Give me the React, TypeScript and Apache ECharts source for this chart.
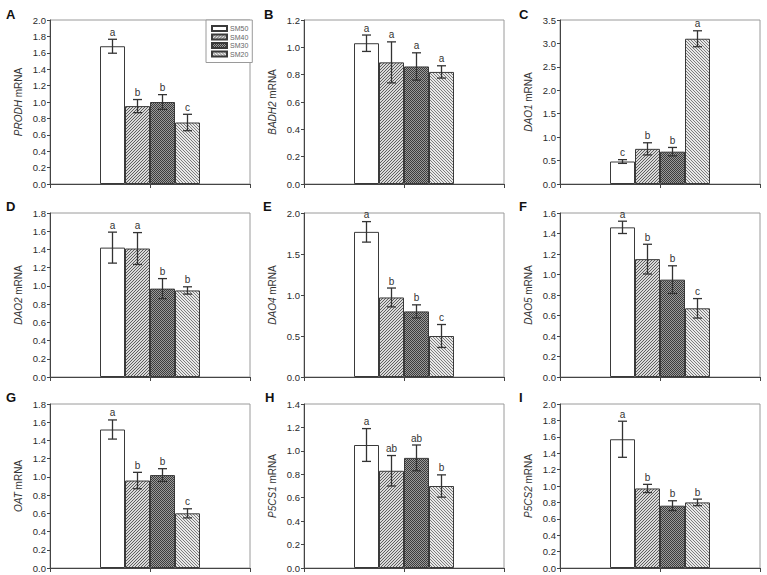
import React, { useEffect, useRef } from 'react';
import * as echarts from 'echarts';

const treatments = ['SM50', 'SM40', 'SM30', 'SM20'];
const genes = ['PRODH', 'BADH2', 'DAO1', 'DAO2', 'DAO4', 'DAO5', 'OAT', 'P5CS1', 'P5CS2'];
const panelLetters = ['A', 'B', 'C', 'D', 'E', 'F', 'G', 'H', 'I'];

const prodhMean = [1.68, 0.95, 1.0, 0.75];
const prodhSE = [0.085, 0.08, 0.09, 0.1];
const badh2Mean = [1.03, 0.89, 0.86, 0.82];
const badh2SE = [0.06, 0.15, 0.1, 0.045];
const dao1Mean = [0.48, 0.75, 0.69, 3.1];
const dao1SE = [0.04, 0.13, 0.09, 0.17];
const dao2Mean = [1.42, 1.41, 0.97, 0.95];
const dao2SE = [0.17, 0.175, 0.11, 0.04];
const dao4Mean = [1.77, 0.97, 0.8, 0.5];
const dao4SE = [0.125, 0.115, 0.08, 0.14];
const dao5Mean = [1.46, 1.15, 0.95, 0.67];
const dao5SE = [0.06, 0.145, 0.135, 0.095];
const oatMean = [1.52, 0.96, 1.02, 0.6];
const oatSE = [0.105, 0.09, 0.07, 0.05];
const p5cs1Mean = [1.05, 0.83, 0.94, 0.7];
const p5cs1SE = [0.14, 0.13, 0.11, 0.095];
const p5cs2Mean = [1.57, 0.97, 0.76, 0.8];
const p5cs2SE = [0.22, 0.05, 0.06, 0.04];

const means = [prodhMean, badh2Mean, dao1Mean, dao2Mean, dao4Mean, dao5Mean, oatMean, p5cs1Mean, p5cs2Mean];
const errors = [prodhSE, badh2SE, dao1SE, dao2SE, dao4SE, dao5SE, oatSE, p5cs1SE, p5cs2SE];

const prodhLetters = ['a', 'b', 'b', 'c'];
const badh2Letters = ['a', 'a', 'a', 'a'];
const dao1Letters = ['c', 'b', 'b', 'a'];
const dao2Letters = ['a', 'a', 'b', 'b'];
const dao4Letters = ['a', 'b', 'b', 'c'];
const dao5Letters = ['a', 'b', 'b', 'c'];
const oatLetters = ['a', 'b', 'b', 'c'];
const p5cs1Letters = ['a', 'ab', 'ab', 'b'];
const p5cs2Letters = ['a', 'b', 'b', 'b'];
const sigLetters = [prodhLetters, badh2Letters, dao1Letters, dao2Letters, dao4Letters, dao5Letters, oatLetters, p5cs1Letters, p5cs2Letters];

const yMax = [2.0, 1.2, 3.5, 1.8, 2.0, 1.6, 1.8, 1.4, 2.0];
const yInterval = [0.2, 0.2, 0.5, 0.2, 0.5, 0.2, 0.2, 0.2, 0.2];

// 8 slots across the plot: bars occupy slots 2..5 (middle half)
const slotLabels = ['s0', 's1', 'SM50', 'SM40', 'SM30', 'SM20', 's6', 's7'];

function makePattern(kind: string) {
  const c = document.createElement('canvas');
  const n = kind === 'check' ? 2 : 3;
  c.width = n;
  c.height = n;
  const ctx = c.getContext('2d')!;
  let bg = '#d9d9d9';
  let fg = '#5e5e5e';
  if (kind === 'back') {
    bg = '#e8e8e8';
    fg = '#7c7c7c';
  }
  if (kind === 'check') {
    bg = '#9a9a9a';
    fg = '#3c3c3c';
  }
  ctx.fillStyle = bg;
  ctx.fillRect(0, 0, n, n);
  ctx.fillStyle = fg;
  for (let y = 0; y < n; y++) {
    for (let x = 0; x < n; x++) {
      let on = false;
      if (kind === 'fwd') on = (x + y) % 3 === 2;
      if (kind === 'back') on = (x - y + 6) % 3 === 0;
      if (kind === 'check') on = (x + y) % 2 === 0;
      if (on) ctx.fillRect(x, y, 1, 1);
    }
  }
  return { image: c, repeat: 'repeat', imageWidth: n, imageHeight: n } as any;
}

const FONT = 'Liberation Sans, Arial, sans-serif';

export default function App() {
  const ref = useRef<HTMLDivElement>(null);
  useEffect(() => {
    const chart = echarts.init(ref.current!, null, { renderer: 'svg' });
    const fills: Record<string, any> = {
      SM50: '#ffffff',
      SM40: makePattern('fwd'),
      SM30: makePattern('check'),
      SM20: makePattern('back'),
    };
    const cols = [50, 304, 560];
    const rows = [20, 213, 404];
    const letterPos = [
      [6, 8], [264, 8], [519, 8],
      [6, 200], [263, 200], [519, 200],
      [6, 391], [265, 391], [519, 391],
    ];
    const grids: any[] = [];
    const xAxes: any[] = [];
    const yAxes: any[] = [];
    const series: any[] = [];
    const graphics: any[] = [];

    genes.forEach((gene, i) => {
      const left = cols[i % 3];
      const top = rows[Math.floor(i / 3)];
      grids.push({
        left, top, width: 200, height: 164, show: true,
        borderColor: '#9a9a9a', borderWidth: 1, backgroundColor: 'transparent',
      });
      xAxes.push({
        type: 'category', gridIndex: i, data: slotLabels, show: false, boundaryGap: true,
      });
      xAxes.push({
        type: 'value', gridIndex: i, min: 0, max: 2, interval: 1, position: 'bottom',
        axisLine: { show: true, lineStyle: { color: '#444', width: 1 } },
        axisTick: { show: true, length: 4, lineStyle: { color: '#444' } },
        axisLabel: { show: false }, splitLine: { show: false },
      });
      yAxes.push({
        type: 'value', gridIndex: i, min: 0, max: yMax[i], interval: yInterval[i],
        name: `{i|${gene}} mRNA`, nameLocation: 'middle', nameGap: 27, nameRotate: 90,
        nameTextStyle: {
          fontSize: 10, color: '#333', fontFamily: FONT,
          rich: { i: { fontStyle: 'italic', fontSize: 10, color: '#333', fontFamily: FONT } },
        },
        axisLine: { show: true, lineStyle: { color: '#444', width: 1 } },
        axisTick: { show: true, length: 3, lineStyle: { color: '#444' } },
        axisLabel: {
          fontSize: 9.5, color: '#2a2a2a', fontFamily: FONT, margin: 4,
          formatter: (v: number) => v.toFixed(1),
        },
        splitLine: { show: false },
      });
      treatments.forEach((t, k) => {
        const data = slotLabels.map((_, s) => (s === k + 2 ? means[i][k] : null));
        series.push({
          type: 'bar', name: t, xAxisIndex: 2 * i, yAxisIndex: i, data,
          barWidth: '100%', barGap: '-100%',
          itemStyle: { color: fills[t], borderColor: '#3a3a3a', borderWidth: 1 },
          emphasis: { disabled: true },
        });
      });
      const errData = treatments.map((_, k) => [k + 2, means[i][k] - errors[i][k], means[i][k] + errors[i][k]]);
      const lets = sigLetters[i];
      series.push({
        type: 'custom', xAxisIndex: 2 * i, yAxisIndex: i, data: errData,
        encode: { x: 0, y: [1, 2] }, z: 10, silent: true,
        itemStyle: { color: '#333' },
        renderItem: (params: any, api: any) => {
          const x = api.value(0);
          const lo = api.coord([x, api.value(1)]);
          const hi = api.coord([x, api.value(2)]);
          const hw = 4.5;
          const st = { stroke: '#333', lineWidth: 1.3 };
          return {
            type: 'group',
            children: [
              { type: 'line', shape: { x1: lo[0], y1: lo[1], x2: hi[0], y2: hi[1] }, style: st },
              { type: 'line', shape: { x1: lo[0] - hw, y1: lo[1], x2: lo[0] + hw, y2: lo[1] }, style: st },
              { type: 'line', shape: { x1: hi[0] - hw, y1: hi[1], x2: hi[0] + hw, y2: hi[1] }, style: st },
              {
                type: 'text', x: hi[0], y: hi[1] - 2,
                style: {
                  text: lets[params.dataIndex], fill: '#333333', stroke: 'none', fontSize: 10, fontFamily: FONT,
                  align: 'center', verticalAlign: 'bottom',
                },
              },
            ],
          };
        },
      });
      graphics.push({
        type: 'text', left: letterPos[i][0], top: letterPos[i][1],
        style: { text: panelLetters[i], fontSize: 13, fontWeight: 'bold', fontFamily: FONT, fill: '#111' },
      });
    });

    chart.setOption({
      animation: false,
      backgroundColor: '#ffffff',
      grid: grids,
      xAxis: xAxes,
      yAxis: yAxes,
      series,
      graphic: graphics,
      legend: {
        data: treatments, orient: 'vertical', left: 206, top: 20, icon: 'rect',
        itemWidth: 15, itemHeight: 5, itemGap: 1.5,
        padding: [5, 4, 5, 5], borderColor: '#9a9a9a', borderWidth: 1,
        backgroundColor: '#fff', selectedMode: false,
        textStyle: { fontSize: 7, color: '#666', fontFamily: FONT, lineHeight: 7, padding: [0, 0, 0, -2] },
      },
    });
    return () => chart.dispose();
  }, []);
  return (
    <div
      ref={ref}
      style={{ position: 'absolute', left: 0, top: 0, width: 767, height: 575, background: '#fff' }}
    />
  );
}
